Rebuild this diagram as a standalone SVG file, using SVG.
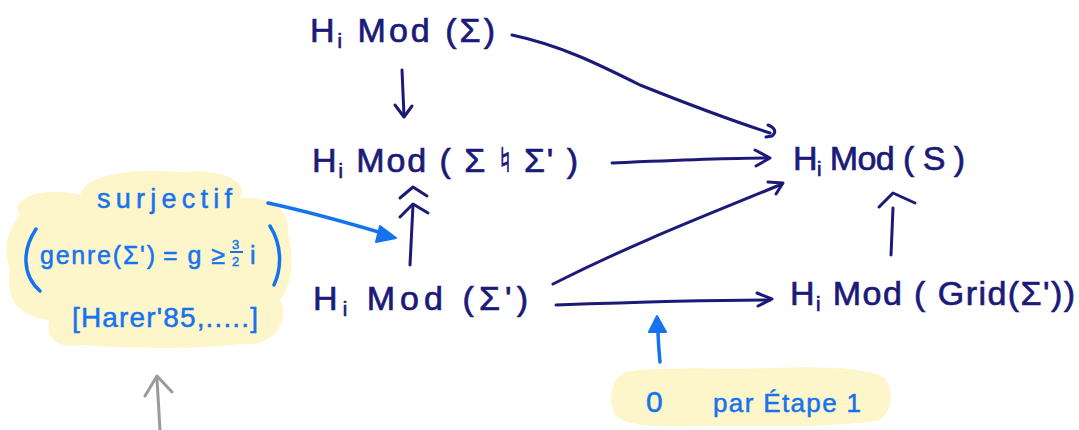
<svg xmlns="http://www.w3.org/2000/svg" width="1079" height="430" viewBox="0 0 1079 430">
<style>
.n{font-family:"Liberation Sans",Arial,sans-serif;font-size:34px;fill:#1c1a78;stroke:#1c1a78;stroke-width:0.7}
.s{font-size:20px}
.b{font-family:"Liberation Sans",Arial,sans-serif;fill:#1673ee;stroke:#1673ee;stroke-width:0.5}
.e{fill:none;stroke:#1c1a78;stroke-width:3;stroke-linecap:round;stroke-linejoin:round}
.be{fill:none;stroke:#1673ee;stroke-width:3.5;stroke-linecap:round;stroke-linejoin:round}
.hl{fill:#fdf6cb}
</style>
<rect width="1079" height="430" fill="#fff"/>
<g id="highlights">
<path class="hl" d="M20,215 C8,200 40,185 80,195 C85,172 140,168 180,172 C220,168 250,180 240,198 C270,195 292,210 288,235 C296,260 290,290 280,300 C290,320 275,348 240,344 C200,350 120,348 80,345 C50,350 45,330 50,320 C20,318 5,300 10,270 C2,250 8,228 20,215 Z"/>
<path class="hl" d="M625,372 C660,366 720,370 770,368 C820,366 870,368 885,378 C895,392 892,410 880,420 C840,428 760,426 700,426 C660,428 625,426 615,415 C608,400 610,380 625,372 Z"/>
</g>
<g id="connectors">
<path class="e" d="M512,35 C560,45 600,65 640,85 C690,105 730,120 770,133"/>
<path class="e" d="M768,125 C775,128 777,132 772,136 L766,137"/>
<path class="e" d="M402,70 L404,116"/>
<path class="e" d="M395,105 L404,117 L412,106"/>
<path class="e" d="M612,163 C680,160 730,158 768,158"/>
<path class="e" d="M755,150 L770,158 L756,166"/>
<path class="e" d="M553,284 C640,240 720,210 782,184"/>
<path class="e" d="M768,182 L783,183 L776,194"/>
<path class="e" d="M556,305 C640,302 720,300 770,300"/>
<path class="e" d="M757,293 L772,299 L758,306"/>
<path class="e" d="M891,255 L893,208"/>
<path class="e" d="M879,207 L893,193 L915,203"/>
<path class="e" d="M410,265 L413,205"/>
<path class="e" d="M400,198 L413,187 L427,196"/>
<path class="e" d="M400,217 L413,204 L428,213"/>
<path class="be" d="M268,203 C310,212 345,222 382,233"/>
<path d="M396,238 L380,226 L376,242 Z" fill="#1673ee" stroke="#1673ee" stroke-width="2" stroke-linejoin="round"/>
<path class="be" d="M660,362 C659,350 658,340 658,330"/>
<path d="M657,316 L649,332 L666,332 Z" fill="#1673ee" stroke="#1673ee" stroke-width="2" stroke-linejoin="round"/>
<path d="M160,430 L157,379 M145,396 L157,376 L172,392" fill="none" stroke="#9a9a9a" stroke-width="3" stroke-linecap="round" stroke-linejoin="round"/>
</g>
<g id="node-mod-sigma"><text class="n" x="310" y="42" textLength="185" lengthAdjust="spacing">H<tspan class="s" dy="6">i</tspan><tspan dy="-6"> Mod (Σ)</tspan></text></g>
<g id="node-mod-sum"><text class="n" x="312" y="172" textLength="266" lengthAdjust="spacing">H<tspan class="s" dy="6">i</tspan><tspan dy="-6"> Mod ( Σ ♮ Σ' )</tspan></text></g>
<g id="node-mod-sigmap"><text class="n" x="313" y="310" textLength="215" lengthAdjust="spacing">H<tspan class="s" dy="6">i</tspan><tspan dy="-6"> Mod (Σ')</tspan></text></g>
<g id="node-mod-s"><text class="n" x="793" y="170" textLength="172" lengthAdjust="spacing">H<tspan class="s" dy="6">i</tspan><tspan dy="-6"> Mod ( S )</tspan></text></g>
<g id="node-mod-grid"><text class="n" x="790" y="305" textLength="285" lengthAdjust="spacing">H<tspan class="s" dy="6">i</tspan><tspan dy="-6"> Mod ( Grid(Σ'))</tspan></text></g>
<g id="note-surjectif">
<text class="b" x="97" y="208" font-size="27" textLength="135" lengthAdjust="spacing">surjectif</text>
<path class="be" d="M36,229 C22,250 22,275 40,291"/>
<path class="be" d="M270,226 C282,245 282,268 274,285"/>
<text class="b" x="40" y="264" font-size="25" textLength="115" lengthAdjust="spacing">genre(Σ')</text>
<text class="b" x="163" y="264" font-size="25" textLength="62" lengthAdjust="spacing">= g ≥</text>
<text class="b" x="232" y="249" font-size="13">3</text>
<path d="M230,252 L243,252" stroke="#1673ee" stroke-width="2"/>
<text class="b" x="232" y="266" font-size="13">2</text>
<text class="b" x="250" y="264" font-size="25">i</text>
<text class="b" x="72" y="327" font-size="28" textLength="186" lengthAdjust="spacing">[Harer'85,.....]</text>
</g>
<g id="note-etape">
<text class="b" x="646" y="412" font-size="30">0</text>
<text class="b" x="713" y="412" font-size="26" textLength="148" lengthAdjust="spacing">par Étape 1</text>
</g>
</svg>
